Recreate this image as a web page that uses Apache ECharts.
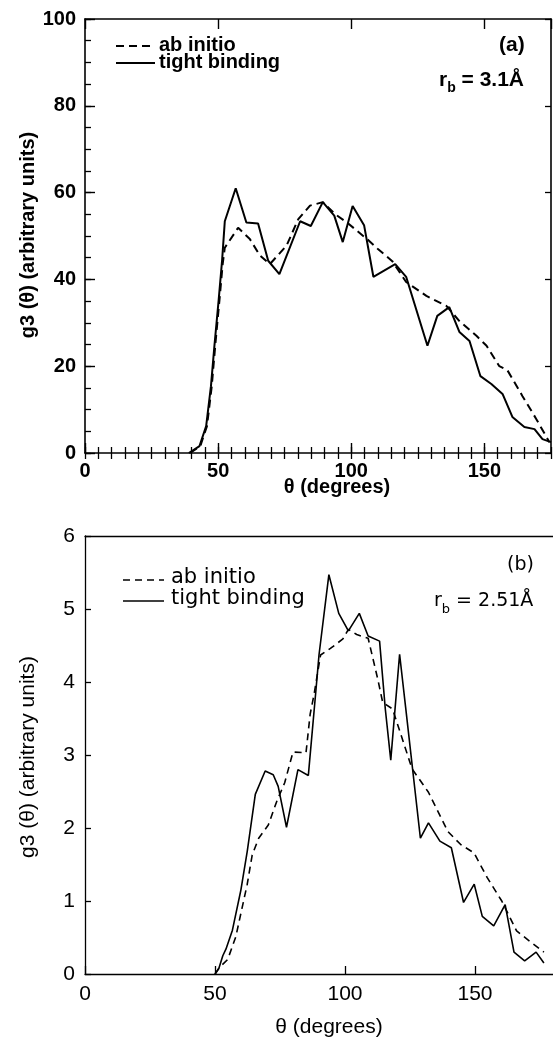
<!DOCTYPE html>
<html>
<head>
<meta charset="utf-8">
<script src="https://cdn.jsdelivr.net/npm/echarts@6/dist/echarts.min.js"></script>
<style>
html,body{margin:0;padding:0;background:#fff;}
#chart{width:553px;height:1039px;}
</style>
</head>
<body>
<div id="chart"></div>
<script>
// ---- Panel (a): r_b = 3.1 Å ----
var topTbTheta = [39,43,45.5,47.3,48.6,50.2,51.5,52.5,56.6,60.6,65,68.8,73,80.8,84.8,89.3,93.6,96.8,100.5,104.8,108.3,116.5,120.6,128.6,132.3,136.8,140.6,144.4,148.5,152.6,156.8,160.5,165,168.8,171.8,175];
var topTbG3    = [0,1.6,6.2,15.4,24.7,35.3,44.5,53.4,61,53.1,52.9,44.3,41.2,53.4,52.3,57.8,54.7,48.6,56.9,52.5,40.6,43.5,40.6,24.7,31.6,33.6,27.9,25.8,17.7,15.9,13.6,8.3,6,5.5,3.2,2.5];
var topAiTheta = [39.5,43.3,45.8,47.6,48.9,50.5,51.7,52.5,57.5,61.9,65.7,69.4,75.7,80.1,84.5,89.3,94,98.4,105.9,110,115.4,120.6,128.2,135.7,140.6,147,150.8,155.6,158.6,164.3,169.5,174.4];
var topAiG3    = [0,1.6,6.2,15.4,24.7,35.3,43.5,47.3,51.9,49.3,45.5,43.5,47.8,53.9,57,57.8,55,53.1,49.3,47,44.2,39.4,36.2,33.9,30.4,27,24.7,20,19.1,13.1,7.8,2.5];
var topXTicks = [0,50,100,150];
var topYTicks = [0,20,40,60,80,100];

// ---- Panel (b): r_b = 2.51 Å ----
var botTbTheta = [50,51.5,53,54.2,56.7,59.9,62.4,65.5,69.3,72.4,74.3,77.5,81.9,85.9,88.8,90,93.8,97.6,101.3,105.5,108.9,113.3,115.5,117.6,121,123.3,129,132.1,136.5,140.9,145.6,149.7,152.8,157.2,161.6,165,169.1,173.5,176.5];
var botTbG3    = [0,0.08,0.25,0.34,0.6,1.14,1.68,2.46,2.78,2.73,2.57,2.01,2.8,2.72,3.88,4.37,5.47,4.94,4.7,4.94,4.63,4.56,3.63,2.93,4.38,3.66,1.86,2.07,1.82,1.73,0.98,1.23,0.79,0.66,0.95,0.3,0.18,0.3,0.15];
var botAiTheta = [50,52,54.9,58,62.4,64.3,66.8,70.5,73.7,76.8,80,85,86.6,88.1,90.6,94.4,99.2,101.3,104.5,108.9,112.6,114.5,118.3,125.8,132.1,139.6,144.6,149.6,154.7,160.3,166,171,176.5];
var botAiG3    = [0,0.1,0.2,0.51,1.23,1.63,1.86,2.04,2.36,2.62,3.04,3.03,3.56,3.83,4.37,4.46,4.59,4.72,4.65,4.6,4.04,3.72,3.63,2.81,2.49,1.95,1.77,1.66,1.32,1.0,0.59,0.45,0.3];
var botXTicks = [0,50,100,150];
var botYTicks = [0,1,2,3,4,5,6];

var legendNames = ['ab initio','tight binding'];

function pairs(xs, ys){ return xs.map(function(x,i){ return [x, ys[i]]; }); }

var BLK = '#000';
var TOPF = 'Liberation Sans, Arial, sans-serif';
var BOTF = 'DejaVu Sans, sans-serif';

function ax(opts){
  var base = {
    type:'value', splitLine:{show:false},
    axisLine:{show:true, onZero:false, lineStyle:{color:BLK, width:1.6}},
    axisTick:{show:true, inside:true, length:10, lineStyle:{color:BLK, width:1.4}},
    axisLabel:{show:false},
    axisPointer:{show:false}
  };
  for (var k in opts) base[k] = opts[k];
  return base;
}

var chart = echarts.init(document.getElementById('chart'), null, {renderer:'canvas'});

var option = {
  backgroundColor:'#fff',
  animation:false,
  grid:[
    {left:85, top:19, width:466, height:434},
    {left:85, top:536, width:478, height:438}
  ],
  xAxis:[
    ax({gridIndex:0, position:'bottom', min:0, max:175, interval:50,
        axisLabel:{show:true, showMaxLabel:false, color:BLK, fontSize:20, fontWeight:'bold', fontFamily:TOPF, margin:8,
          formatter:function(v){ return topXTicks.indexOf(v) >= 0 ? String(v) : ''; }}}),
    ax({gridIndex:0, position:'bottom', min:0, max:175, interval:5, axisLine:{show:false}, axisTick:{show:true, inside:true, length:6, lineStyle:{color:BLK, width:1.3}}}),
    ax({gridIndex:0, position:'top', min:0, max:175, interval:50}),
    ax({gridIndex:0, position:'top', min:0, max:175, interval:5, axisLine:{show:false}, axisTick:{show:true, inside:true, length:6, lineStyle:{color:BLK, width:1.3}}}),
    ax({gridIndex:1, position:'bottom', min:0, max:180, interval:50, axisTick:{show:true, inside:true, length:8, lineStyle:{color:BLK, width:1.3}},
        axisLine:{show:true, onZero:false, lineStyle:{color:BLK, width:1.3}},
        axisLabel:{show:true, showMaxLabel:false, color:BLK, fontSize:21, fontFamily:TOPF, margin:10,
          formatter:function(v){ return botXTicks.indexOf(v) >= 0 ? String(v) : ''; }}}),
    ax({gridIndex:1, position:'top', min:0, max:180, interval:50, axisTick:{show:false},
        axisLine:{show:true, onZero:false, lineStyle:{color:BLK, width:1.3}}})
  ],
  yAxis:[
    ax({gridIndex:0, position:'left', min:0, max:100, interval:20,
        axisLabel:{show:true, color:BLK, fontSize:20, fontWeight:'bold', fontFamily:TOPF, margin:9,
          formatter:function(v){ return topYTicks.indexOf(v) >= 0 ? String(v) : ''; }}}),
    ax({gridIndex:0, position:'left', min:0, max:100, interval:5, axisLine:{show:false}, axisTick:{show:true, inside:true, length:6, lineStyle:{color:BLK, width:1.3}}}),
    ax({gridIndex:0, position:'right', min:0, max:100, interval:20, axisTick:{show:true, inside:true, length:6, lineStyle:{color:BLK, width:1.3}}}),
    ax({gridIndex:1, position:'left', min:0, max:6, interval:1, axisTick:{show:true, inside:true, length:6, lineStyle:{color:BLK, width:1.3}},
        axisLine:{show:true, onZero:false, lineStyle:{color:BLK, width:1.3}},
        axisLabel:{show:true, color:BLK, fontSize:21, fontFamily:TOPF, margin:10,
          formatter:function(v){ return botYTicks.indexOf(v) >= 0 ? String(v) : ''; }}})
  ],
  series:[
    {name:legendNames[0], type:'line', xAxisIndex:0, yAxisIndex:0, data:pairs(topAiTheta, topAiG3), showSymbol:false, symbol:'none',
     lineStyle:{color:BLK, width:2, type:[8,5]}, z:3},
    {name:legendNames[1], type:'line', xAxisIndex:0, yAxisIndex:0, data:pairs(topTbTheta, topTbG3), showSymbol:false, symbol:'none',
     lineStyle:{color:BLK, width:2, type:'solid'}, z:4},
    {name:legendNames[0], type:'line', xAxisIndex:4, yAxisIndex:3, data:pairs(botAiTheta, botAiG3), showSymbol:false, symbol:'none',
     lineStyle:{color:BLK, width:1.6, type:[7,5]}, z:3},
    {name:legendNames[1], type:'line', xAxisIndex:4, yAxisIndex:3, data:pairs(botTbTheta, botTbG3), showSymbol:false, symbol:'none',
     lineStyle:{color:BLK, width:1.6, type:'solid'}, z:4}
  ],
  graphic:[
    // panel (a) legend
    {type:'line', shape:{x1:116, y1:46, x2:155, y2:46}, style:{stroke:BLK, lineWidth:1.8, lineDash:[8,5]}},
    {type:'line', shape:{x1:116, y1:63, x2:155, y2:63}, style:{stroke:BLK, lineWidth:1.8}},
    {type:'text', left:159, top:35, style:{text:legendNames[0], fill:BLK, font:'bold 20px ' + TOPF}},
    {type:'text', left:159, top:52, style:{text:legendNames[1], fill:BLK, font:'bold 20px ' + TOPF}},
    {type:'text', left:499, top:35, style:{text:'(a)', fill:BLK, font:'bold 21px ' + TOPF}},
    {type:'text', left:439, top:70, style:{text:'{r|r}{s|b}{r| = 3.1Å}', rich:{
        r:{fontSize:21, fontWeight:'bold', fontFamily:TOPF, fill:BLK, padding:[0,0,7,0]},
        s:{fontSize:14, fontWeight:'bold', fontFamily:TOPF, fill:BLK, padding:[9,0,0,0]}}}},
    // panel (a) axis titles
    {type:'text', x:337, y:487, style:{text:'θ (degrees)', fill:BLK, font:'bold 20px ' + TOPF, textAlign:'center', textVerticalAlign:'middle'}},
    {type:'text', x:28, y:235, rotation:Math.PI/2, style:{text:'g3 (θ) (arbitrary units)', fill:BLK, font:'bold 20px ' + TOPF, textAlign:'center', textVerticalAlign:'middle'}},
    // panel (b) legend
    {type:'line', shape:{x1:123, y1:580, x2:164, y2:580}, style:{stroke:BLK, lineWidth:1.5, lineDash:[7,5]}},
    {type:'line', shape:{x1:123, y1:601, x2:164, y2:601}, style:{stroke:BLK, lineWidth:1.5}},
    {type:'text', left:171, top:567, style:{text:legendNames[0], fill:BLK, font:'21px ' + BOTF}},
    {type:'text', left:171, top:588, style:{text:legendNames[1], fill:BLK, font:'21px ' + BOTF}},
    {type:'text', left:507, top:556, style:{text:'(b)', fill:BLK, font:'19px ' + BOTF}},
    {type:'text', left:434, top:592, style:{text:'{r|r}{s|b}{r| = 2.51Å}', rich:{
        r:{fontSize:19, fontFamily:BOTF, fill:BLK, padding:[0,0,7,0]},
        s:{fontSize:13, fontFamily:BOTF, fill:BLK, padding:[9,0,0,0]}}}},
    // panel (b) axis titles
    {type:'text', x:329, y:1027, style:{text:'θ (degrees)', fill:BLK, font:'21px ' + TOPF, textAlign:'center', textVerticalAlign:'middle'}},
    {type:'text', x:28, y:757, rotation:Math.PI/2, style:{text:'g3 (θ) (arbitrary units)', fill:BLK, font:'21px ' + TOPF, textAlign:'center', textVerticalAlign:'middle'}}
  ]
};
chart.setOption(option);
</script>
</body>
</html>
